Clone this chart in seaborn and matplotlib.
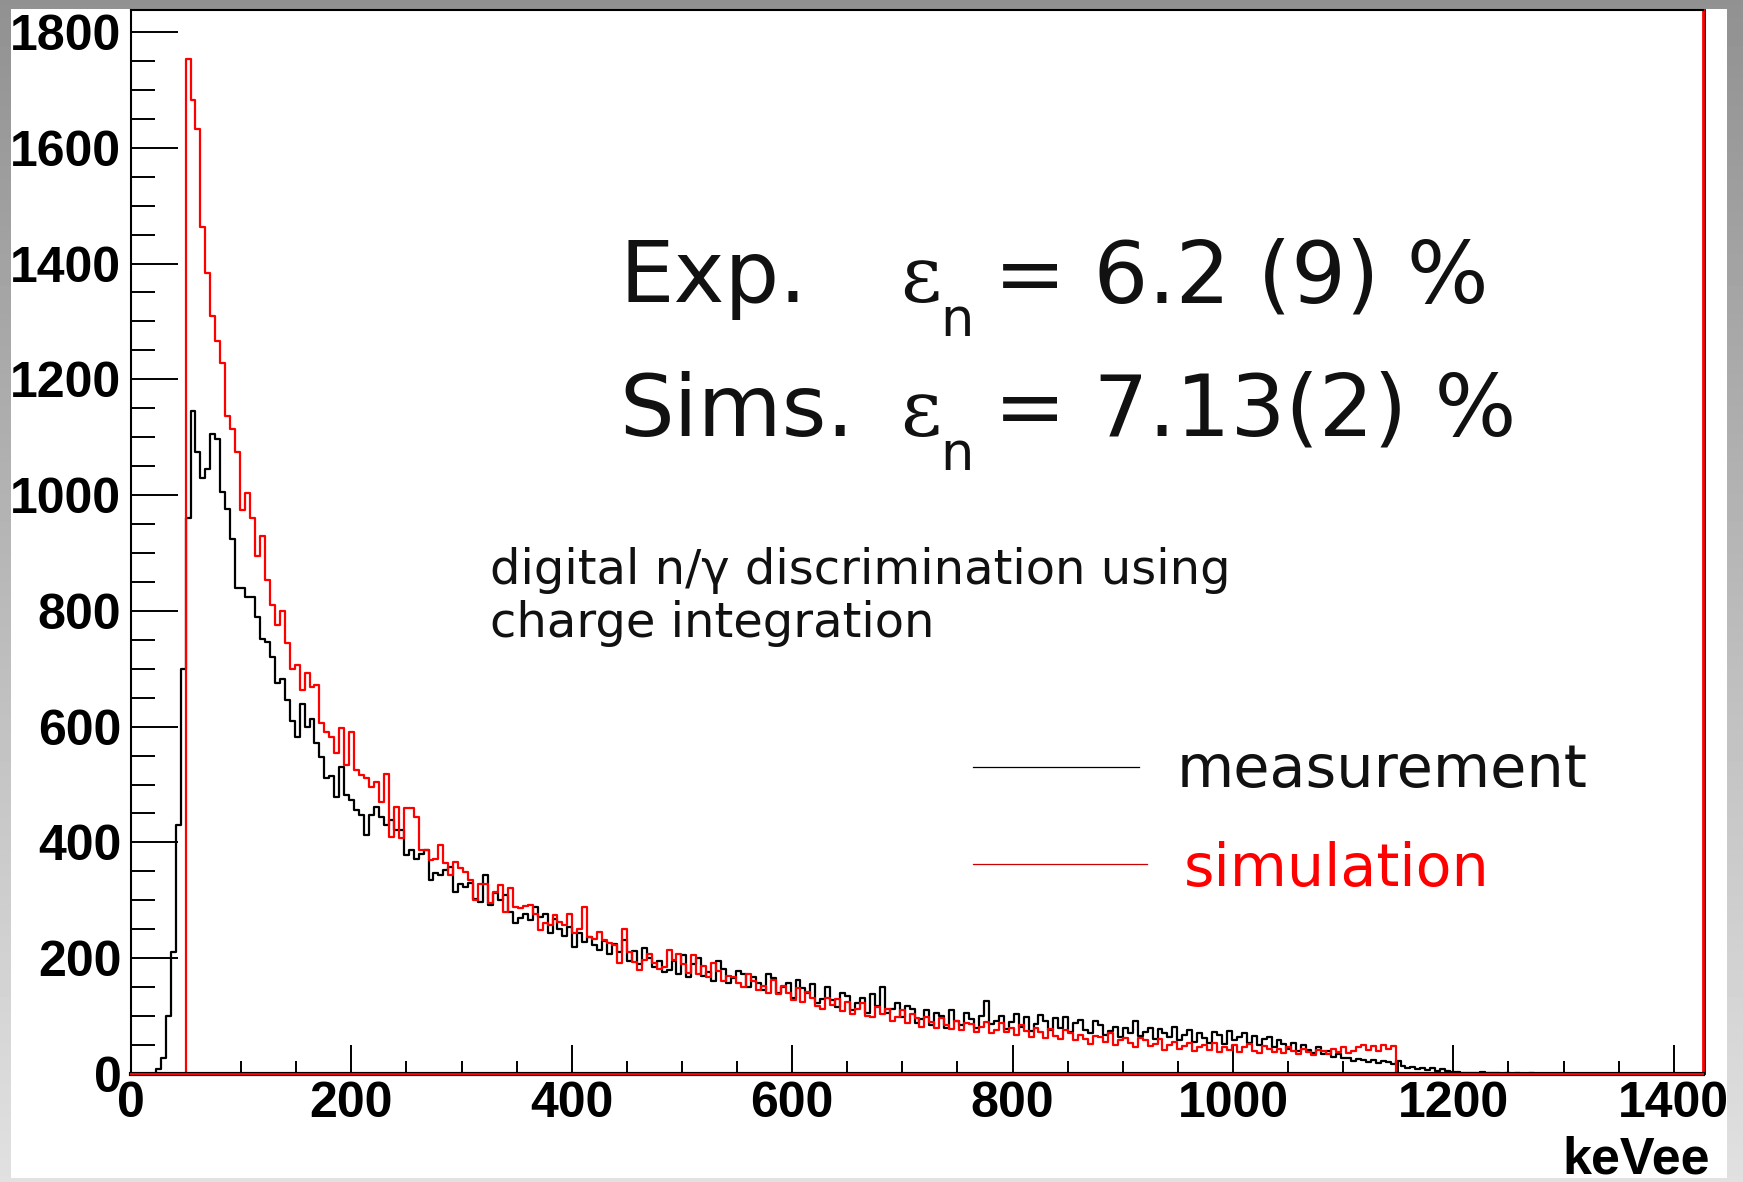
import numpy as np
import pandas as pd
import matplotlib
matplotlib.use("Agg")
import matplotlib.pyplot as plt
import seaborn as sns
from matplotlib.lines import Line2D
from matplotlib.patches import Rectangle
from matplotlib.ticker import MultipleLocator

# ---------------- data ----------------
BIN_WIDTH = 4.5          # keVee per bin
X_MAX = 1426.5           # right end of the histogram range

meas_start = 22.5        # first non-empty bin edge of the measurement
meas_counts = [
    8, 28, 100, 210, 430, 700, 960, 1146, 1074, 1030,
    1045, 1106, 1097, 1005, 976, 925, 840, 839, 824, 824,
    789, 752, 747, 721, 675, 683, 646, 610, 583, 640,
    600, 614, 571, 548, 511, 515, 479, 531, 482, 473,
    456, 447, 413, 447, 462, 444, 430, 439, 421, 421,
    378, 387, 372, 380, 387, 335, 347, 344, 352, 358,
    315, 329, 323, 330, 303, 297, 344, 292, 312, 300,
    309, 280, 260, 269, 277, 266, 289, 272, 277, 243,
    268, 250, 238, 254, 220, 243, 228, 237, 222, 214,
    230, 208, 225, 210, 231, 196, 212, 190, 218, 200,
    185, 196, 176, 180, 195, 172, 205, 168, 190, 200,
    170, 176, 160, 195, 182, 158, 165, 178, 172, 150,
    168, 158, 145, 172, 165, 140, 150, 158, 132, 162,
    148, 140, 155, 122, 130, 150, 128, 115, 140, 135,
    110, 122, 132, 105, 138, 118, 150, 105, 112, 122,
    98, 118, 112, 88, 95, 110, 85, 106, 100, 80,
    110, 92, 84, 106, 95, 80, 100, 126, 86, 92,
    100, 78, 90, 104, 82, 99, 75, 86, 102, 92,
    76, 96, 80, 99, 72, 88, 94, 76, 70, 92,
    84, 68, 74, 82, 64, 80, 70, 92, 66, 72,
    80, 60, 78, 70, 64, 82, 58, 68, 76, 56,
    70, 62, 54, 72, 68, 52, 74, 58, 64, 70,
    54, 66, 50, 60, 64, 46, 58, 52, 44, 54,
    40, 50, 42, 36, 46, 34, 40, 30, 34, 27,
    28, 22, 26, 24, 20, 25, 19, 23, 21, 17,
    22, 13, 10, 12, 8, 11, 7, 10, 6, 8,
    6, 4, 3, 2, 2, 2, 1, 3, 1, 1,
    1, 0, 1, 0, 1, 0, 0, 1, 0,
]

sim_start = 49.5         # first non-empty bin edge of the simulation
sim_counts = [
    1753, 1682, 1633, 1463, 1384, 1309, 1266, 1228, 1136, 1114,
    1074, 975, 1003, 960, 895, 929, 853, 810, 775, 800,
    745, 700, 706, 663, 692, 668, 672, 606, 590, 583,
    554, 597, 534, 590, 525, 516, 511, 496, 505, 470,
    519, 410, 462, 407, 459, 459, 444, 387, 387, 370,
    372, 395, 364, 344, 367, 355, 349, 335, 300, 329,
    329, 295, 315, 326, 280, 321, 289, 286, 290, 292,
    277, 248, 260, 258, 274, 262, 258, 277, 243, 250,
    289, 237, 234, 246, 231, 226, 222, 191, 251, 211,
    194, 179, 197, 208, 191, 182, 185, 214, 197, 208,
    190, 175, 205, 172, 186, 168, 192, 178, 160, 170,
    168, 158, 150, 172, 160, 145, 152, 140, 162, 138,
    152, 140, 128, 148, 125, 142, 132, 118, 112, 132,
    120, 130, 108, 124, 104, 112, 122, 100, 98, 116,
    104, 112, 92, 98, 110, 88, 104, 96, 82, 98,
    90, 80, 96, 84, 78, 92, 76, 88, 86, 72,
    82, 90, 70, 76, 88, 72, 80, 68, 84, 74,
    64, 80, 72, 62, 78, 66, 60, 76, 70, 58,
    68, 60, 52, 66, 64, 56, 70, 50, 58, 62,
    54, 46, 62, 58, 48, 52, 60, 42, 50, 56,
    44, 48, 54, 40, 46, 50, 42, 54, 38, 46,
    42, 50, 38, 46, 52, 40, 36, 48, 44, 38,
    44, 36, 46, 40, 34, 44, 38, 32, 42, 40,
    34, 44, 38, 46, 36, 40, 46, 50, 42, 48,
    40, 50, 44, 49,
]

x_ticks = [0, 200, 400, 600, 800, 1000, 1200, 1400]
y_ticks = [0, 200, 400, 600, 800, 1000, 1200, 1400, 1600, 1800]
Y_MAX = 1838
x_label = "keVee"
series_names = ["measurement", "simulation"]
series_colors = ["#000000", "#ff0000"]

# ---------------- figure ----------------
W, H = 1743, 1182
fig = plt.figure(figsize=(W / 100, H / 100), dpi=100)

def fx(px):
    return px / W

def fy(py):
    return 1 - py / H

# grey gradient frame + white page
bg = fig.add_axes([0, 0, 1, 1], zorder=-10)
grad = np.linspace(0.57, 0.88, 256).reshape(-1, 1)
bg.imshow(grad, aspect="auto", cmap="gray", vmin=0, vmax=1, extent=[0, 1, 0, 1])
bg.set_axis_off()
fig.add_artist(Rectangle((fx(11), fy(1178)), fx(1727) - fx(11), fy(9) - fy(1178),
                         transform=fig.transFigure, facecolor="white",
                         edgecolor="none", zorder=-5))

ax = fig.add_axes([fx(131), fy(1074), fx(1703) - fx(131), fy(10) - fy(1074)])
ax.set_facecolor("white")

edges = [round(BIN_WIDTH * i, 3) for i in range(int(round(X_MAX / BIN_WIDTH)) + 1)]

def frame(start, counts, name):
    counts = np.asarray(counts, dtype=float)
    centers = start + BIN_WIDTH * (np.arange(len(counts)) + 0.5)
    return pd.DataFrame({"keVee": centers, "counts": counts, "series": name})

df_meas = frame(meas_start, meas_counts, series_names[0])
df_sim = frame(sim_start, sim_counts, series_names[1])

for df, col in [(df_meas, series_colors[0]), (df_sim, series_colors[1])]:
    sns.histplot(data=df, x="keVee", weights="counts", bins=edges,
                 element="step", fill=False, color=col, linewidth=1.6,
                 ax=ax, legend=False)

ax.set_xlim(0, X_MAX)
ax.set_ylim(0, Y_MAX)
ax.set_xlabel("")
ax.set_ylabel("")

# ROOT-like axes
ax.set_xticks(x_ticks)
ax.set_yticks(y_ticks)
ax.xaxis.set_minor_locator(MultipleLocator(50))
ax.yaxis.set_minor_locator(MultipleLocator(50))
ax.tick_params(axis="y", which="major", direction="in", length=34, width=1.4, pad=7)
ax.tick_params(axis="y", which="minor", direction="in", length=17, width=1.4)
ax.tick_params(axis="x", which="major", direction="in", length=21, width=1.4, pad=5)
ax.tick_params(axis="x", which="minor", direction="in", length=9.5, width=1.4)
ax.tick_params(top=False, right=False, which="both")
for lab in ax.get_xticklabels() + ax.get_yticklabels():
    lab.set_fontfamily("Liberation Sans")
    lab.set_fontweight("bold")
    lab.set_fontsize(36)

for s in ["left", "top"]:
    ax.spines[s].set_color("black")
    ax.spines[s].set_linewidth(1.5)
ax.spines["bottom"].set_color("black")
ax.spines["bottom"].set_linewidth(3.0)
ax.spines["right"].set_color("#ff0000")
ax.spines["right"].set_linewidth(2.0)
ax.axhline(0, color="#ff0000", lw=1.5, clip_on=False, zorder=5)
ax.add_line(Line2D([1.0015, 1.0015], [0, 1], transform=ax.transAxes,
                   color="black", lw=1.3, clip_on=False))

fig.text(fx(1710), fy(1174), x_label, ha="right", va="baseline",
         fontfamily="Liberation Sans", fontweight="bold", fontsize=37.5)

# ---------------- annotations ----------------
big = 62
fig.text(fx(619), fy(302), "Exp.", fontsize=big, fontfamily="DejaVu Sans",
         color="#111111", va="baseline")
fig.text(fx(619), fy(436), "Sims.", fontsize=big, fontfamily="DejaVu Sans",
         color="#111111", va="baseline")
for base, rest in [(302, "= 6.2 (9) %"), (436, "= 7.13(2) %")]:
    fig.text(fx(900), fy(base), "\u03b5", fontsize=57, fontfamily="DejaVu Serif",
             color="#111111", va="baseline")
    fig.text(fx(940), fy(base + 34), "n", fontsize=38, fontfamily="DejaVu Sans",
             color="#111111", va="baseline")
    fig.text(fx(994), fy(base), rest, fontsize=big, fontfamily="DejaVu Sans",
             color="#111111", va="baseline")

fig.text(fx(490), fy(584), "digital n/\u03b3 discrimination using", fontsize=34.6,
         fontfamily="DejaVu Sans", color="#111111", va="baseline")
fig.text(fx(490), fy(637), "charge integration", fontsize=34.6,
         fontfamily="DejaVu Sans", color="#111111", va="baseline")

# legend
fig.add_artist(Line2D([fx(973), fx(1139)], [fy(767), fy(767)], color="black", lw=0.9))
fig.add_artist(Line2D([fx(973), fx(1147)], [fy(864), fy(864)], color="#cc0000", lw=0.9))
fig.text(fx(1177), fy(787), series_names[0], fontsize=42.4, fontfamily="DejaVu Sans",
         color="#111111", va="baseline")
fig.text(fx(1184), fy(886), series_names[1], fontsize=42.2, fontfamily="DejaVu Sans",
         color="#ff0000", va="baseline")

fig.savefig("out.png", dpi=100)
